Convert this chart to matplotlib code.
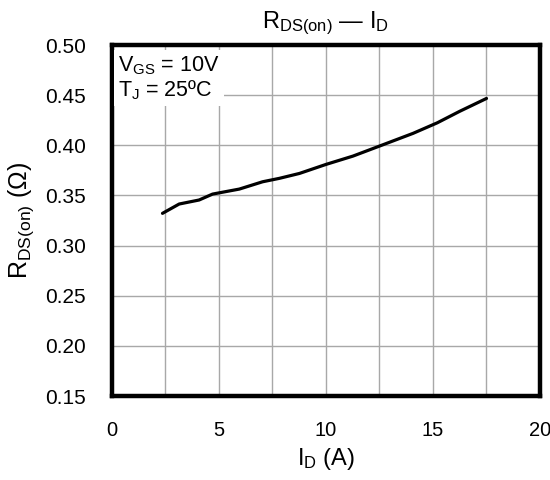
import matplotlib
matplotlib.use("Agg")
import matplotlib.pyplot as plt
from matplotlib.ticker import MultipleLocator

plt.rcParams['font.family'] = ['Liberation Sans', 'DejaVu Sans']
plt.rcParams['mathtext.fontset'] = 'custom'
plt.rcParams['mathtext.rm'] = 'Liberation Sans'
plt.rcParams['mathtext.it'] = 'Liberation Sans:italic'

# curve
i_d = [2.36, 3.14, 4.07, 4.70, 5.95, 7.04, 7.82, 8.76, 10.0, 11.26,
       12.5, 14.07, 15.2, 16.25, 17.5]
r_ds = [0.3322, 0.3415, 0.3455, 0.3514, 0.3564, 0.3637, 0.3671, 0.372,
        0.381, 0.3893, 0.3993, 0.412, 0.4225, 0.434, 0.4468]

x_ticks = [0, 5, 10, 15, 20]
y_ticks = [0.15, 0.20, 0.25, 0.30, 0.35, 0.40, 0.45, 0.50]

fig = plt.figure(figsize=(5.5, 4.8), dpi=100)
ax = fig.add_axes([0.2036, 0.175, 0.7782, 0.731])

ax.plot(i_d, r_ds, color='black', lw=2.3, solid_capstyle='round')

ax.set_xlim(0, 20)
ax.set_ylim(0.15, 0.50)
ax.set_xticks(x_ticks)
ax.set_yticks(y_ticks)
ax.set_yticklabels(['%.2f' % v for v in y_ticks])
ax.xaxis.set_minor_locator(MultipleLocator(2.5))
ax.grid(which='both', color='#a8a8a8', lw=1.0)
ax.set_axisbelow(True)
ax.tick_params(which='both', length=0, labelsize=15)
ax.tick_params(axis='x', pad=18, labelsize=14.5)
ax.tick_params(axis='y', pad=19)
for s in ax.spines.values():
    s.set_linewidth(3.2)

ax.set_title(r'R$_{\rm DS(on)}$ — I$_{\rm D}$', fontsize=17, pad=12)
ax.set_xlabel(r'I$_{\rm D}$ (A)', fontsize=17, labelpad=4)
ax.set_ylabel(r'R$_{\rm DS(on)}$ ($\Omega$)', fontsize=18, labelpad=6)

ax.text(0.3, 0.491, 'V$_{\\rm GS}$ = 10V\nT$_{\\rm J}$ = 25ºC', fontsize=15.5,
        va='top', ha='left', linespacing=1.1,
        bbox=dict(facecolor='white', edgecolor='none', pad=3))

fig.savefig('out.png', dpi=100)
